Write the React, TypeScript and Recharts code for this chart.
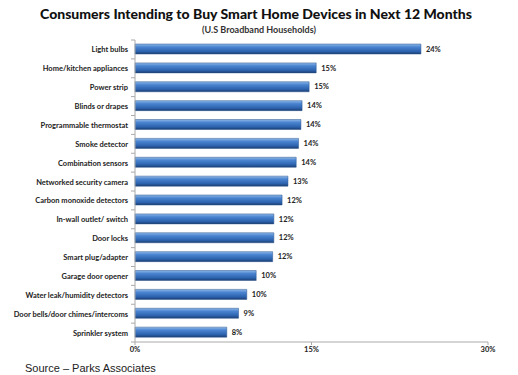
import React from "react";
import { BarChart, Bar, XAxis, YAxis, LabelList } from "recharts";

const categories = [
  "Light bulbs",
  "Home/kitchen appliances",
  "Power strip",
  "Blinds or drapes",
  "Programmable thermostat",
  "Smoke detector",
  "Combination sensors",
  "Networked security camera",
  "Carbon monoxide detectors",
  "In-wall outlet/ switch",
  "Door locks",
  "Smart plug/adapter",
  "Garage door opener",
  "Water leak/humidity detectors",
  "Door bells/door chimes/intercoms",
  "Sprinkler system",
];

// bar lengths (percent)
const shares = [24.3, 15.4, 14.8, 14.2, 14.1, 13.9, 13.7, 13.0, 12.5, 11.8, 11.8, 11.7, 10.3, 9.5, 8.8, 7.8];
// printed labels
const shareLabels = ["24%", "15%", "15%", "14%", "14%", "14%", "14%", "13%", "12%", "12%", "12%", "12%", "10%", "10%", "9%", "8%"];
const xTicks = [0, 15, 30];

const data = categories.map((name, i) => ({ name, value: shares[i], label: shareLabels[i] }));

const FONT = "Lato, 'Open Sans', sans-serif";
const AXIS_X = 135;
const BAND = 302 / categories.length;

const CategoryTick = (props: any) => {
  const { y, payload, index } = props;
  return (
    <g>
      <text x={AXIS_X - 7} y={y} dy={3} textAnchor="end" fontSize={7.5} fontWeight={700} fill="#222" fontFamily={FONT}>
        {payload.value}
      </text>
      <line x1={AXIS_X - 4} x2={AXIS_X} y1={y - BAND / 2} y2={y - BAND / 2} stroke="#aaa" />
      {index === categories.length - 1 && (
        <line x1={AXIS_X - 4} x2={AXIS_X} y1={y + BAND / 2} y2={y + BAND / 2} stroke="#aaa" />
      )}
    </g>
  );
};

export default function App() {
  return (
    <div style={{ position: "absolute", left: 0, top: 0, width: 518, height: 375, background: "#fff", fontFamily: FONT }}>
      <div style={{ position: "absolute", top: 5, width: 518, left: -3, textAlign: "center", fontSize: 14, fontWeight: 900, color: "#111" }}>
        Consumers Intending to Buy Smart Home Devices in Next 12 Months
      </div>
      <div style={{ position: "absolute", top: 24, width: 518, textAlign: "center", fontSize: 9, fontWeight: 700, color: "#333" }}>
        (U.S Broadband Households)
      </div>
      <BarChart
        width={518}
        height={375}
        data={data}
        layout="vertical"
        margin={{ top: 40, right: 30, bottom: 13, left: 0 }}
        barSize={10}
      >
        <defs>
          <linearGradient id="barFill" x1="0" y1="0" x2="0" y2="1">
            <stop offset="0%" stopColor="#8fb8e8" />
            <stop offset="30%" stopColor="#4a84d0" />
            <stop offset="75%" stopColor="#2c62ad" />
            <stop offset="100%" stopColor="#1b3d70" />
          </linearGradient>
        </defs>
        <XAxis
          type="number"
          domain={[0, 30]}
          ticks={xTicks}
          tickFormatter={(v) => `${v}%`}
          axisLine={{ stroke: "#aaa" }}
          tickLine={{ stroke: "#aaa" }}
          tickSize={3}
          height={20}
          tick={{ fontSize: 7.5, fontWeight: 700, fill: "#222", fontFamily: FONT }}
        />
        <YAxis
          type="category"
          dataKey="name"
          width={135}
          axisLine={{ stroke: "#aaa" }}
          tickLine={false}
          interval={0}
          tick={<CategoryTick />}
        />
        <Bar dataKey="value" fill="url(#barFill)" stroke="#2a558f" strokeWidth={0.5} isAnimationActive={false}>
          <LabelList dataKey="label" position="right" offset={5} fontSize={7.5} fontWeight={700} fill="#222" fontFamily={FONT} />
        </Bar>
      </BarChart>
      <div style={{ position: "absolute", left: 25, top: 362, fontSize: 11, color: "#222", fontFamily: "'Liberation Sans', Arial, sans-serif" }}>
        Source – Parks Associates
      </div>
    </div>
  );
}
